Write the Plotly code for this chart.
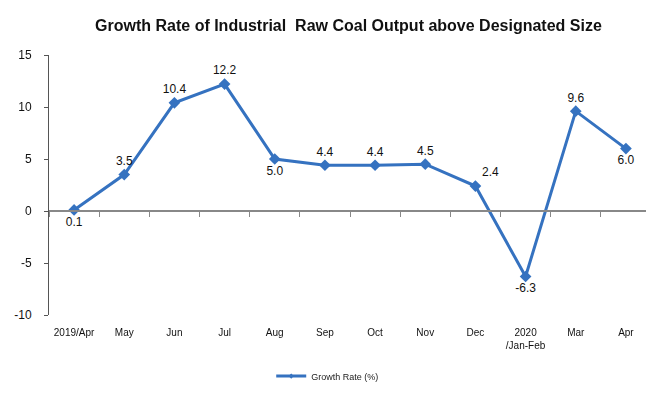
import plotly.graph_objects as go

categories = ["2019/Apr", "May", "Jun", "Jul", "Aug", "Sep", "Oct", "Nov", "Dec",
              "2020<br>/Jan-Feb", "Mar", "Apr"]
growth = [0.1, 3.5, 10.4, 12.2, 5.0, 4.4, 4.4, 4.5, 2.4, -6.3, 9.6, 6.0]
label_pos = ["bottom center", "top center", "top center", "top center", "bottom center",
             "top center", "top center", "top center", "top right", "bottom center",
             "top center", "bottom center"]
y_ticks = [-10, -5, 0, 5, 10, 15]
y_ticktext = ["-10", "-5", "0", "5", "10", "15"]
series_name = "Growth Rate (%)"

blue = "#3572c0"
font = "Arial, 'Liberation Sans', sans-serif"

fig = go.Figure()
fig.add_trace(go.Scatter(
    x=categories, y=growth, mode="lines+markers+text",
    name=series_name, showlegend=False,
    line=dict(color=blue, width=3),
    marker=dict(symbol="diamond", size=9, color=blue),
    text=[f"{v:.1f}" for v in growth], textposition=label_pos,
    textfont=dict(family=font, size=12, color="#111"),
    xaxis="x", yaxis="y", cliponaxis=False,
))
# legend entry (small marker as in the reference)
fig.add_trace(go.Scatter(
    x=[None], y=[None], mode="lines+markers", name=series_name,
    line=dict(color=blue, width=3),
    marker=dict(symbol="diamond", size=4, color=blue),
    xaxis="x", yaxis="y",
))
fig.add_trace(go.Scatter(
    x=categories, y=growth, mode="markers", opacity=0, showlegend=False,
    hoverinfo="skip", xaxis="x2", yaxis="y",
))

fig.update_layout(
    width=646, height=385,
    margin=dict(l=41, r=3, t=47, b=72),
    paper_bgcolor="white", plot_bgcolor="white",
    title=dict(text="<b>Growth Rate of Industrial  Raw Coal Output above Designated Size</b>",
               x=0.527, xanchor="center", y=0.955, yanchor="middle",
               font=dict(family=font, size=16, color="#111")),
    font=dict(family=font, color="#222"),
    showlegend=True,
    legend=dict(orientation="h", x=0.463, xanchor="center", y=-0.235, yanchor="middle",
                font=dict(size=9, color="#222"), itemwidth=30),
    xaxis=dict(type="category", range=[-0.5, 11.5], anchor="free", position=0.4,
               showline=True, linecolor="#888", linewidth=1.5,
               ticks="outside", tickson="boundaries", ticklen=5, tickcolor="#888",
               showticklabels=False, showgrid=False, zeroline=False),
    xaxis2=dict(type="category", range=[-0.5, 11.5], overlaying="x", anchor="y", side="bottom",
                showline=False, ticks="outside", ticklen=8, tickcolor="rgba(0,0,0,0)",
                showgrid=False, zeroline=False,
                tickfont=dict(size=10, color="#111"), tickangle=0),
    yaxis=dict(range=[-10, 15], tickvals=y_ticks, ticktext=y_ticktext,
               showgrid=False, zeroline=False,
               showline=True, linecolor="#555", linewidth=1, ticks="outside", ticklen=4,
               tickcolor="#555", ticklabelstandoff=10,
               tickfont=dict(size=12, color="#111")),
)
fig.write_html("out.html")
